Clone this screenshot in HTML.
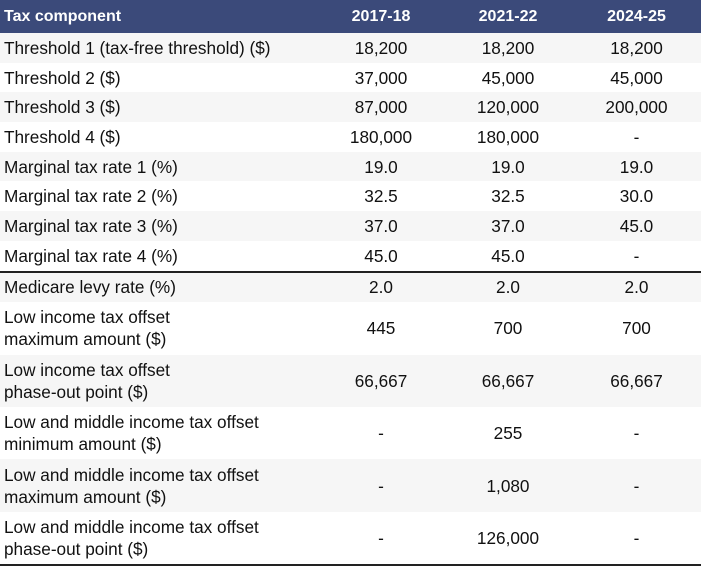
<!DOCTYPE html>
<html><head><style>
body{margin:0;background:#fff;width:703px;height:572px;overflow:hidden;font-family:"Liberation Sans",sans-serif;}
table{border-collapse:collapse;position:absolute;left:0;top:0;width:701px;table-layout:fixed;}
td,th{padding:0 0 0 4px;font-size:17.2px;color:#111;line-height:22px;}
th{background:#3b4a7a;color:#fff;font-weight:bold;height:33px;text-align:left;font-size:16px}
th.c,td.c{text-align:center;padding:0;}
tr.s td{height:29.7px}
tr.d td{height:52.4px}
tr.g td{background:#f6f6f6}
tr.sep td{border-top:2px solid #222}
tr.last td{border-bottom:2px solid #222}
</style></head><body>
<table>
<col style="width:318px"><col style="width:126px"><col style="width:128px"><col style="width:129px">
<tr><th>Tax component</th><th class="c">2017-18</th><th class="c">2021-22</th><th class="c">2024-25</th></tr>
<tr class="s g"><td>Threshold 1 (tax-free threshold) ($)</td><td class="c">18,200</td><td class="c">18,200</td><td class="c">18,200</td></tr>
<tr class="s"><td>Threshold 2 ($)</td><td class="c">37,000</td><td class="c">45,000</td><td class="c">45,000</td></tr>
<tr class="s g"><td>Threshold 3 ($)</td><td class="c">87,000</td><td class="c">120,000</td><td class="c">200,000</td></tr>
<tr class="s"><td>Threshold 4 ($)</td><td class="c">180,000</td><td class="c">180,000</td><td class="c">-</td></tr>
<tr class="s g"><td>Marginal tax rate 1 (%)</td><td class="c">19.0</td><td class="c">19.0</td><td class="c">19.0</td></tr>
<tr class="s"><td>Marginal tax rate 2 (%)</td><td class="c">32.5</td><td class="c">32.5</td><td class="c">30.0</td></tr>
<tr class="s g"><td>Marginal tax rate 3 (%)</td><td class="c">37.0</td><td class="c">37.0</td><td class="c">45.0</td></tr>
<tr class="s"><td>Marginal tax rate 4 (%)</td><td class="c">45.0</td><td class="c">45.0</td><td class="c">-</td></tr>
<tr class="s g sep"><td>Medicare levy rate (%)</td><td class="c">2.0</td><td class="c">2.0</td><td class="c">2.0</td></tr>
<tr class="d"><td>Low income tax offset<br>maximum amount ($)</td><td class="c">445</td><td class="c">700</td><td class="c">700</td></tr>
<tr class="d g"><td>Low income tax offset<br>phase-out point ($)</td><td class="c">66,667</td><td class="c">66,667</td><td class="c">66,667</td></tr>
<tr class="d"><td>Low and middle income tax offset<br>minimum amount ($)</td><td class="c">-</td><td class="c">255</td><td class="c">-</td></tr>
<tr class="d g"><td>Low and middle income tax offset<br>maximum amount ($)</td><td class="c">-</td><td class="c">1,080</td><td class="c">-</td></tr>
<tr class="d last"><td>Low and middle income tax offset<br>phase-out point ($)</td><td class="c">-</td><td class="c">126,000</td><td class="c">-</td></tr>
</table>
</body></html>
